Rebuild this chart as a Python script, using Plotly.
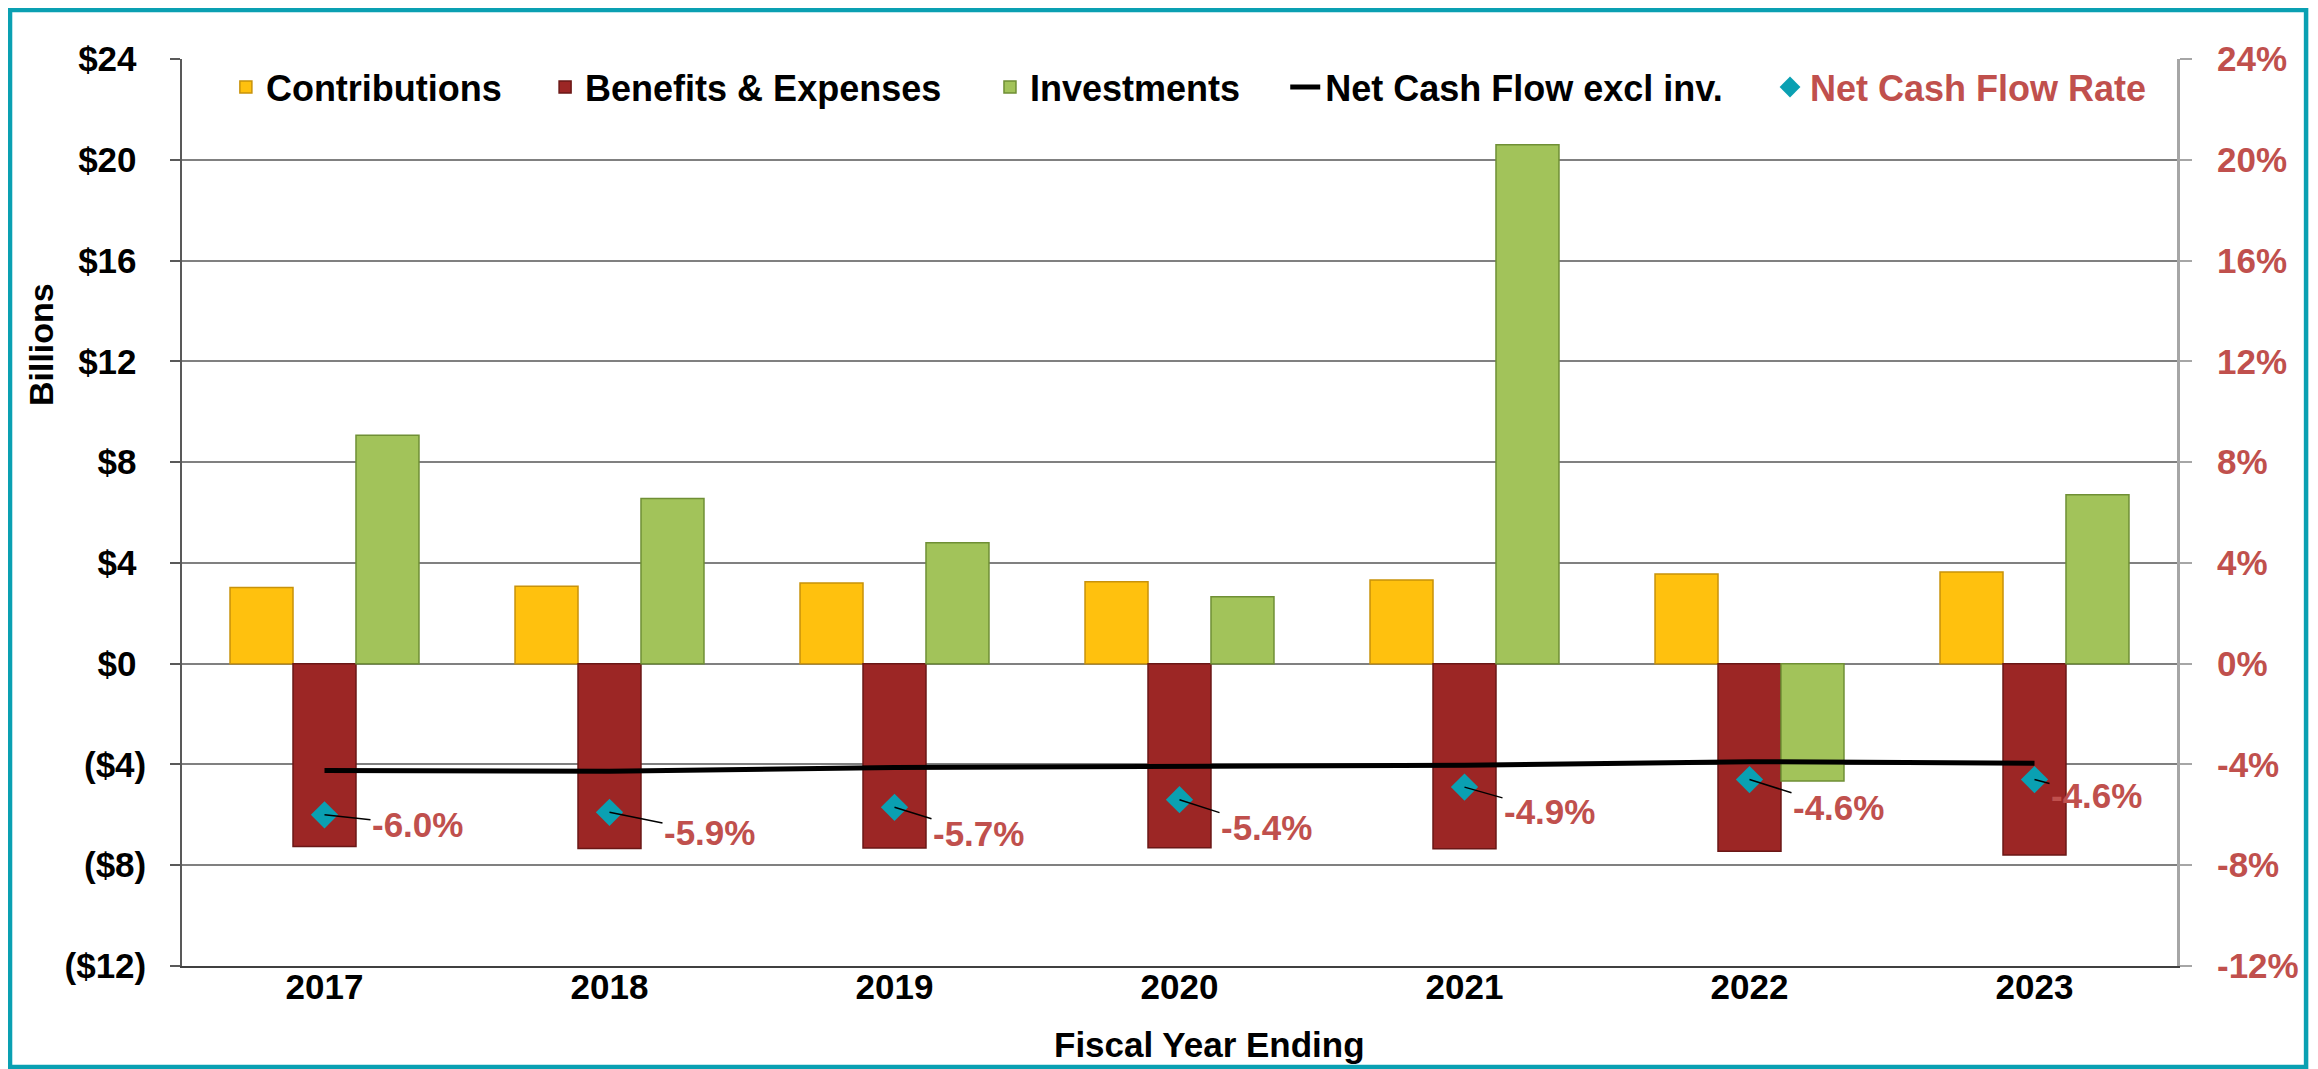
import plotly.graph_objects as go

years = ["2017", "2018", "2019", "2020", "2021", "2022", "2023"]
contributions = [3.02, 3.07, 3.20, 3.25, 3.32, 3.56, 3.64]
benefits_expenses = [-7.26, -7.34, -7.32, -7.31, -7.35, -7.45, -7.59]
investments = [9.07, 6.56, 4.80, 2.66, 20.60, -4.66, 6.70]
net_cash_flow = [-4.24, -4.27, -4.12, -4.06, -4.03, -3.89, -3.95]
net_cash_flow_rate = [-6.0, -5.9, -5.7, -5.4, -4.9, -4.6, -4.6]
rate_labels = ["-6.0%", "-5.9%", "-5.7%", "-5.4%", "-4.9%", "-4.6%", "-4.6%"]

left_tickvals = [-12, -8, -4, 0, 4, 8, 12, 16, 20, 24]
left_ticktext = ["($12)", "($8)", "($4)", "$0\u2008", "$4\u2008", "$8\u2008",
                 "$12\u2008", "$16\u2008", "$20\u2008", "$24\u2008"]
right_tickvals = [-12, -8, -4, 0, 4, 8, 12, 16, 20, 24]
right_ticktext = ["-12%", "-8%", "-4%", "0%", "4%", "8%", "12%", "16%", "20%", "24%"]

# label offsets (pixels) for rate callouts
label_dx = [93, 100, 84, 87, 85, 89, 62]
label_dy = [10, 20, 26, 28, 24, 28, 16]

FONT = "Liberation Sans, Arial, sans-serif"
RED = "#C0504D"
TEAL = "#0AA0B2"

fig = go.Figure()
fig.add_trace(go.Bar(name="Contributions", x=years, y=contributions,
                     marker=dict(color="#FFC10E", line=dict(color="#C8920A", width=1.5)),
                     legend="legend"))
fig.add_trace(go.Bar(name="Benefits & Expenses", x=years, y=benefits_expenses,
                     marker=dict(color="#9C2625", line=dict(color="#6A1716", width=1.5)),
                     legend="legend2"))
fig.add_trace(go.Bar(name="Investments", x=years, y=investments,
                     marker=dict(color="#A2C35A", line=dict(color="#6F8F35", width=1.5)),
                     legend="legend3"))
fig.add_trace(go.Scatter(name="Net Cash Flow excl inv.", x=years, y=net_cash_flow,
                         mode="lines", line=dict(color="black", width=5),
                         legend="legend4"))
fig.add_trace(go.Scatter(name="Net Cash Flow Rate", x=years, y=net_cash_flow_rate,
                         mode="markers", yaxis="y2",
                         marker=dict(symbol="diamond", size=21, color=TEAL),
                         legend="legend5"))

annotations = []
for i, (r, lab, dx, dy) in enumerate(zip(net_cash_flow_rate, rate_labels, label_dx, label_dy)):
    annotations.append(dict(x=i, y=r, xref="x", yref="y2", text=lab,
                            showarrow=True, arrowhead=0, arrowwidth=1.5, arrowcolor="black",
                            ax=dx, ay=dy, standoff=0, startstandoff=0,
                            font=dict(family=FONT, size=35, color=RED, weight="bold")))

annotations.append(dict(text="Billions", xref="paper", yref="paper", x=-0.071, y=0.685,
                        textangle=-90, showarrow=False, xanchor="center", yanchor="middle",
                        font=dict(family=FONT, size=34, color="black", weight="bold")))
annotations.append(dict(text="Fiscal Year Ending", xref="paper", yref="paper", x=0.515, y=-0.087,
                        showarrow=False, xanchor="center", yanchor="middle",
                        font=dict(family=FONT, size=35, color="black", weight="bold")))

legend_font = dict(family=FONT, size=36, color="black", weight="bold")
def leg(xpos, color="black"):
    f = dict(legend_font)
    f["color"] = color
    return dict(orientation="h", x=xpos, y=0.969, xanchor="left", yanchor="middle",
                bgcolor="rgba(0,0,0,0)", font=f, itemwidth=30)

fig.update_layout(
    width=2310, height=1061,
    margin=dict(l=174, r=141, t=51, b=103),
    paper_bgcolor="white", plot_bgcolor="white",
    barmode="group", bargap=0.337, bargroupgap=0,
    showlegend=True,
    legend=leg(0.022),
    legend2=leg(0.182),
    legend3=leg(0.405),
    legend4=leg(0.553),
    legend5=leg(0.796, RED),
    annotations=annotations,
    xaxis=dict(type="category", range=[-0.5, len(years) - 0.5], autorange=False,
               showgrid=False, ticks="", showline=True,
               linecolor="#404040", linewidth=1.5, ticklabelstandoff=-11,
               tickfont=dict(family=FONT, size=35, color="black", weight="bold")),
    yaxis=dict(range=[-12, 24], tickvals=left_tickvals, ticktext=left_ticktext,
               showgrid=True, gridcolor="#808080", gridwidth=1.5, zeroline=False,
               showline=True, linecolor="#595959", linewidth=1.5,
               ticks="outside", ticklen=10, tickcolor="#595959", tickwidth=1.5,
               ticklabelstandoff=17,
               tickfont=dict(family=FONT, size=35, color="black", weight="bold")),
    yaxis2=dict(range=[-12, 24], tickvals=right_tickvals, ticktext=right_ticktext,
                overlaying="y", side="right", showgrid=False, zeroline=False,
                showline=True, linecolor="#A6A6A6", linewidth=3,
                ticks="outside", ticklen=12, tickcolor="#A6A6A6", tickwidth=1.5,
                ticklabelstandoff=18,
                tickfont=dict(family=FONT, size=35, color=RED, weight="bold")),
    shapes=[dict(type="rect", xref="paper", yref="paper",
                 x0=-0.0862, x1=1.0647, y0=-0.1113, y1=1.0540,
                 line=dict(color=TEAL, width=4.5), fillcolor="rgba(0,0,0,0)", layer="above")],
)

fig.write_html("out.html")
